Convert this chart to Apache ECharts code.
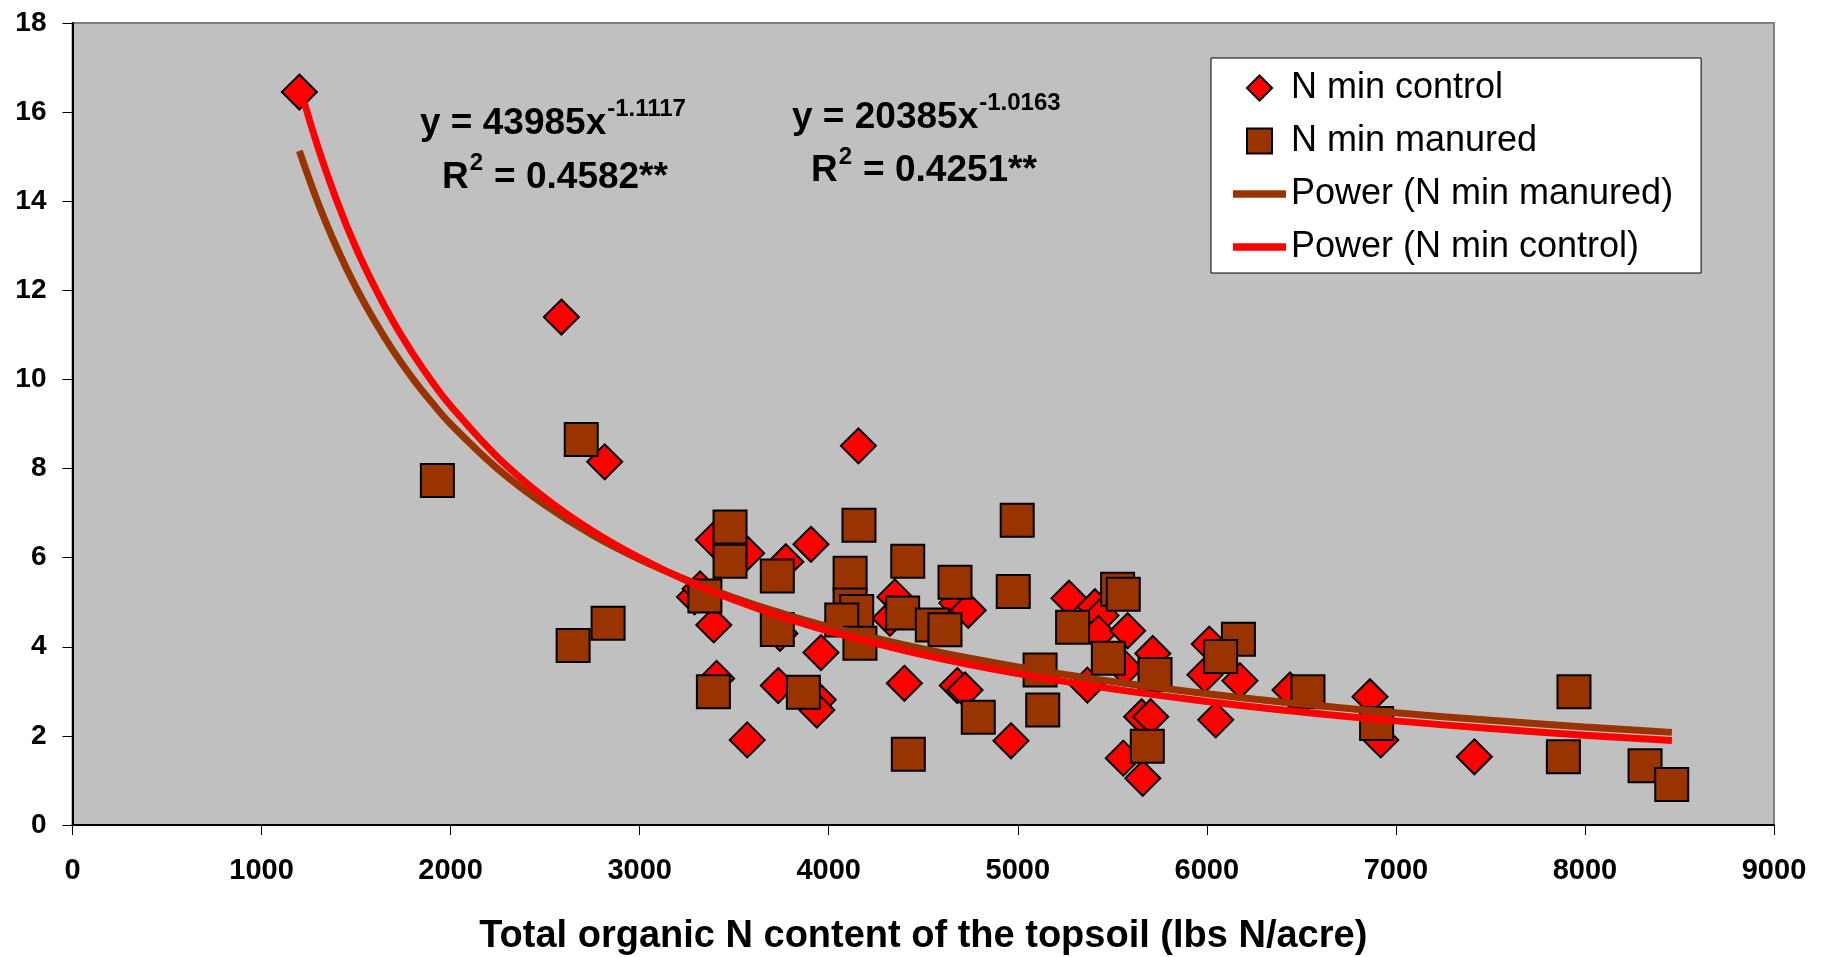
<!DOCTYPE html>
<html><head><meta charset="utf-8">
<script src="https://cdn.jsdelivr.net/npm/echarts@6/dist/echarts.min.js"></script>
<style>html,body{margin:0;padding:0;background:#fff}#c{width:1834px;height:957px}</style>
</head><body><div id="c"></div>
<script>
// ---- data ----
const controlX = [1200,2586,2815,4157,3906,3390,3566,3773,3290,3320,3392,3742,3959,4350,4324,4677,4738,3407,3733,3945,3937,3569,4400,4680,4721,4964,5271,5408,5440,5426,5581,5567,5714,5368,5655,5703,5558,5661,6013,5990,6175,6047,6440,6863,6920,7415];
const controlY = [16.45,11.40,8.15,8.51,6.30,6.40,6.10,5.91,5.12,5.30,4.49,4.30,3.87,5.12,4.64,4.98,4.82,3.29,3.13,2.81,2.58,1.91,3.18,3.13,3.03,1.89,5.09,4.90,4.70,4.30,4.36,3.52,3.85,3.14,2.43,2.43,1.50,1.05,4.06,3.37,3.24,2.36,3.03,2.88,1.91,1.53];
const manuredX = [1930,2691,2648,2833,3478,3478,4160,4997,3728,4113,4418,4668,4976,3345,3728,4113,4148,4069,4165,4391,4548,4615,3390,3866,4791,4421,5528,5558,5290,5479,5726,5118,5132,5685,6167,6073,6535,6898,7942,7886,8318,8459];
const manuredY = [7.73,8.65,4.03,4.53,6.69,5.92,6.73,6.84,5.59,5.65,5.92,5.45,5.24,5.14,4.39,4.94,4.79,4.60,4.08,4.76,4.49,4.38,2.99,2.98,2.42,1.59,5.29,5.18,4.44,3.74,3.38,3.48,2.58,1.77,4.17,3.78,2.99,2.28,2.99,1.53,1.33,0.91];
// trend curves (points read along the drawn power trendlines)
const curveX = [1200,1300,1400,1500,1600,1700,1800,1900,2000,2250,2500,2750,3000,3250,3500,3750,4000,4500,5000,5500,6000,6500,7000,7500,8000,8460];
const curveControlY = [16.60,15.19,13.99,12.95,12.06,11.27,10.58,9.96,9.41,8.25,7.34,6.60,5.995,5.48,5.051,4.678,4.354,3.820,3.397,3.056,2.774,2.538,2.337,2.165,2.015,1.894];
const curveManuredY = [15.13,13.95,12.94,12.06,11.30,10.62,10.02,9.486,9.00,7.99,7.18,6.51,5.963,5.50,5.099,4.754,4.452,3.950,3.548,3.221,2.948,2.718,2.521,2.350,2.201,2.079];
const seriesNames = ['N min control','N min manured','Power (N min manured)','Power (N min control)'];
const xAxisTitle = 'Total organic N content of the topsoil (lbs N/acre)';
const eqMain = ['y = 43985x','R','y = 20385x','R'];
const eqSup = ['-1.1117','2','-1.0163','2'];
const eqTail = ['','= 0.4582**','','= 0.4251**'];

const FONT = "'Liberation Sans', Arial, sans-serif";
const zip = (a,b) => a.map((v,i)=>[v,b[i]]);

const cv = document.createElement('canvas').getContext('2d');
function tw(text, font){ cv.font = font; return cv.measureText(text).width; }

// equation layout (annotation positions)
const eqPos = [ {x:420,y:124,sy:109}, {x:442,y:178,sy:163}, {x:792,y:118,sy:103}, {x:811,y:171,sy:157} ];
const graphics = [];
eqPos.forEach((p,i)=>{
  const fm = 'bold 37px ' + FONT, fs = 'bold 24px ' + FONT;
  graphics.push({type:'text', x:p.x, y:p.y, z:100, style:{text:eqMain[i], font:fm, fill:'#000', verticalAlign:'middle', textVerticalAlign:'middle'}});
  const sx = p.x + tw(eqMain[i], fm) + 1;
  graphics.push({type:'text', x:sx, y:p.sy, z:100, style:{text:eqSup[i], font:fs, fill:'#000', verticalAlign:'middle', textVerticalAlign:'middle'}});
  if (eqTail[i]) {
    const tx = sx + tw(eqSup[i], fs) + 11;
    graphics.push({type:'text', x:tx, y:p.y, z:100, style:{text:eqTail[i], font:fm, fill:'#000', verticalAlign:'middle', textVerticalAlign:'middle'}});
  }
});

const ICON_DIAMOND = 'path://M12.5,0 L25,12.5 L12.5,25 L0,12.5 Z';
const ICON_SQUARE = 'path://M0,0 L24,0 L24,24 L0,24 Z';
const ICON_LINE = 'path://M0,0 L50,0 L50,7 L0,7 Z';

const chart = echarts.init(document.getElementById('c'), null, {renderer:'canvas'});
chart.setOption({
  animation:false,
  backgroundColor:'#fff',
  textStyle:{fontFamily:FONT},
  grid:{left:72.5, right:60, top:23, bottom:132, show:true, backgroundColor:'#C0C0C0', borderColor:'#808080', borderWidth:2,
    containLabel:false, outerBoundsMode:'none'},
  xAxis:{type:'value', min:0, max:9000, interval:1000,
    name:xAxisTitle, nameLocation:'middle', nameGap:93,
    nameTextStyle:{fontSize:38, fontWeight:'bold', color:'#000', fontFamily:FONT},
    axisLine:{show:true, onZero:false, lineStyle:{color:'#000', width:2}},
    axisTick:{show:true, inside:false, length:10, lineStyle:{color:'#000', width:1}},
    axisLabel:{fontSize:29, fontWeight:'bold', color:'#000', margin:31, fontFamily:FONT, formatter:(v)=>String(v)},
    splitLine:{show:false}},
  yAxis:{type:'value', min:0, max:18, interval:2,
    axisLine:{show:true, onZero:false, lineStyle:{color:'#000', width:2}},
    axisTick:{show:true, inside:false, length:10, lineStyle:{color:'#000', width:1}},
    axisLabel:{fontSize:28, fontWeight:'bold', color:'#000', margin:26, fontFamily:FONT, formatter:(v)=>String(v)},
    splitLine:{show:false}},
  legend:{orient:'vertical', left:1211, top:58,
    backgroundColor:'#fff', borderColor:'#000', borderWidth:1, borderRadius:0,
    padding:[10,28,6,22], itemWidth:53, itemHeight:25, itemGap:13,
    symbolKeepAspect:true,
    textStyle:{fontSize:36, lineHeight:40, color:'#000', fontFamily:FONT},
    data:[
      {name:seriesNames[0], icon:ICON_DIAMOND, itemStyle:{color:'#FF0000', borderColor:'#000', borderWidth:2}},
      {name:seriesNames[1], icon:ICON_SQUARE, itemStyle:{color:'#993300', borderColor:'#000', borderWidth:2}},
      {name:seriesNames[2], icon:ICON_LINE, itemStyle:{color:'#993300', borderWidth:0}},
      {name:seriesNames[3], icon:ICON_LINE, itemStyle:{color:'#FF0000', borderWidth:0}}
    ], selectedMode:false},
  graphic:graphics,
  series:[
    {name:seriesNames[0], type:'scatter', data:zip(controlX,controlY), symbol:'diamond', symbolSize:35, z:2,
      itemStyle:{color:'#FF0000', borderColor:'#000', borderWidth:2, opacity:1}},
    {name:seriesNames[1], type:'scatter', data:zip(manuredX,manuredY), symbol:'rect', symbolSize:33, z:3,
      itemStyle:{color:'#993300', borderColor:'#000', borderWidth:2, opacity:1}},
    {name:seriesNames[2], type:'line', data:zip(curveX,curveManuredY), smooth:0.4, symbol:'none', showSymbol:false, z:4,
      lineStyle:{color:'#993300', width:7}, itemStyle:{color:'#993300'}},
    {name:seriesNames[3], type:'line', data:zip(curveX,curveControlY), smooth:0.4, symbol:'none', showSymbol:false, z:5,
      lineStyle:{color:'#FF0000', width:7}, itemStyle:{color:'#FF0000'}}
  ]
});
</script></body></html>
